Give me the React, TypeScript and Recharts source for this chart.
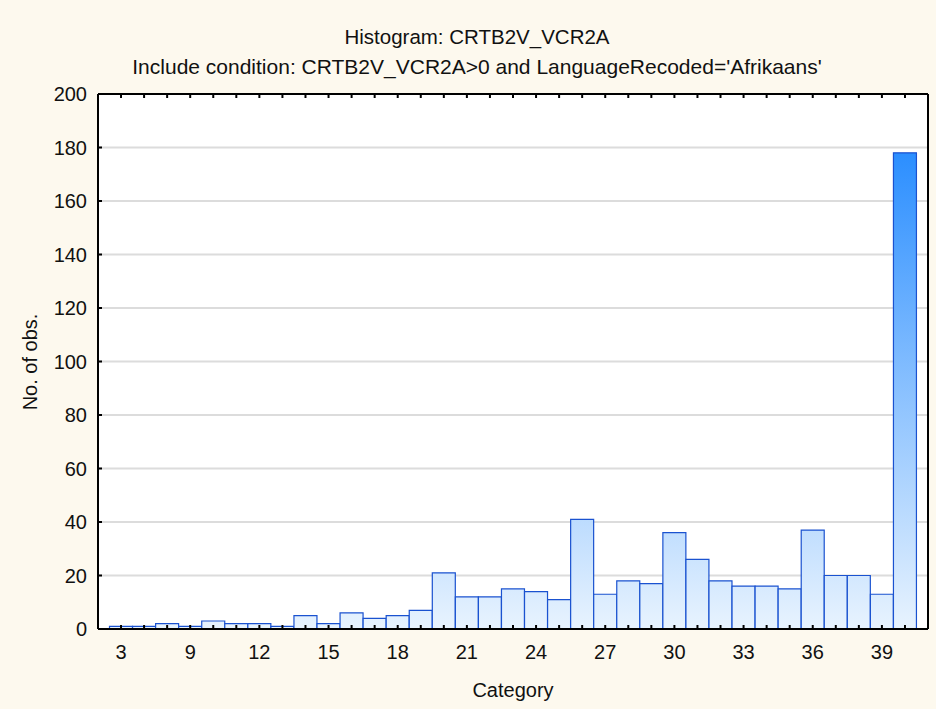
import React from 'react'
import { BarChart, Bar, XAxis, YAxis, CartesianGrid } from 'recharts'

const bins = [6, 7, 8, 9, 10, 11, 12, 13, 14, 15, 16, 17, 18, 19, 20, 21, 22, 23, 24, 25, 26, 27, 28, 29, 30, 31, 32, 33, 34, 35, 36, 37, 38, 39, 40]
const counts = [1, 1, 2, 1, 3, 2, 2, 1, 5, 2, 6, 4, 5, 7, 21, 12, 12, 15, 14, 11, 41, 13, 18, 17, 36, 26, 18, 16, 16, 15, 37, 20, 20, 13, 178]

// labels printed under every third bar
const xTickLabels = ['3', '9', '12', '15', '18', '21', '24', '27', '30', '33', '36', '39']
const yTicks = [0, 20, 40, 60, 80, 100, 120, 140, 160, 180, 200]

const title = 'Histogram: CRTB2V_VCR2A'
const subtitle = "Include condition: CRTB2V_VCR2A>0 and LanguageRecoded='Afrikaans'"
const xTitle = 'Category'
const yTitle = 'No. of obs.'

const data = bins.map((b, i) => ({ bin: String(b), count: counts[i] }))

const FONT = '"Liberation Sans", Arial, sans-serif'

function BottomTick(props: any) {
  const { x, y, index } = props
  if (index % 3 !== 0) return <g />
  const label = xTickLabels[index / 3]
  return (
    <text x={x} y={y} dy={13} textAnchor="middle" fontSize={20} fontFamily={FONT} fill="#111">
      {label}
    </text>
  )
}

function LeftTick(props: any) {
  const { x, y, payload } = props
  return (
    <text x={x} y={y} dy={7} textAnchor="end" fontSize={20} fontFamily={FONT} fill="#111">
      {payload.value}
    </text>
  )
}

const EmptyTick = () => <g />

export default function App() {
  return (
    <div style={{ position: 'absolute', left: 0, top: 0, width: 936, height: 709, background: '#fdf9ee' }}>
      <BarChart
        width={936}
        height={709}
        data={data}
        margin={{ top: 93, right: 7, bottom: 0, left: 0 }}
        barCategoryGap={0}
        barGap={0}
      >
        <defs>
          <linearGradient id="barFill" gradientUnits="userSpaceOnUse" x1="0" y1="94" x2="0" y2="629">
            <stop offset="0%" stopColor="#1482ff" />
            <stop offset="100%" stopColor="#e8f3fe" />
          </linearGradient>
        </defs>
        <CartesianGrid vertical={false} stroke="#dcdcdc" strokeWidth={2} fill="#ffffff" fillOpacity={1} />
        <XAxis
          dataKey="bin"
          interval={0}
          height={80}
          padding={{ left: 11.5, right: 11.5 }}
          stroke="#000"
          axisLine={{ stroke: '#000', strokeWidth: 2 }}
          tickLine={{ stroke: '#000', strokeWidth: 2 }}
          tickSize={-4}
          tickMargin={21}
          tick={BottomTick}
        />
        <XAxis
          xAxisId="top"
          orientation="top"
          dataKey="bin"
          interval={0}
          height={1}
          padding={{ left: 11.5, right: 11.5 }}
          stroke="#000"
          axisLine={{ stroke: '#000', strokeWidth: 2 }}
          tickLine={{ stroke: '#000', strokeWidth: 2 }}
          tickSize={-4}
          tick={EmptyTick}
        />
        <YAxis
          domain={[0, 200]}
          ticks={yTicks}
          interval={0}
          width={98}
          stroke="#000"
          axisLine={{ stroke: '#000', strokeWidth: 2 }}
          tickLine={{ stroke: '#000', strokeWidth: 2 }}
          tickSize={-4}
          tickMargin={15}
          tick={LeftTick}
        />
        <YAxis
          yAxisId="right"
          orientation="right"
          domain={[0, 200]}
          ticks={yTicks}
          interval={0}
          width={1}
          stroke="#000"
          axisLine={{ stroke: '#000', strokeWidth: 2 }}
          tickLine={{ stroke: '#000', strokeWidth: 2 }}
          tickSize={-4}
          tick={EmptyTick}
        />
        <Bar dataKey="count" fill="url(#barFill)" stroke="#1a52d0" strokeWidth={1.2} isAnimationActive={false} />
      </BarChart>
      <svg
        width={936}
        height={709}
        style={{ position: 'absolute', left: 0, top: 0, pointerEvents: 'none' }}
        fontFamily={FONT}
        fill="#111"
      >
        <text x={477} y={44} textAnchor="middle" fontSize={20.5}>{title}</text>
        <text x={477} y={74} textAnchor="middle" fontSize={21}>{subtitle}</text>
        <text x={513} y={697} textAnchor="middle" fontSize={20}>{xTitle}</text>
        <text x={37} y={362} textAnchor="middle" fontSize={20} transform="rotate(-90 37 362)">{yTitle}</text>
      </svg>
    </div>
  )
}
